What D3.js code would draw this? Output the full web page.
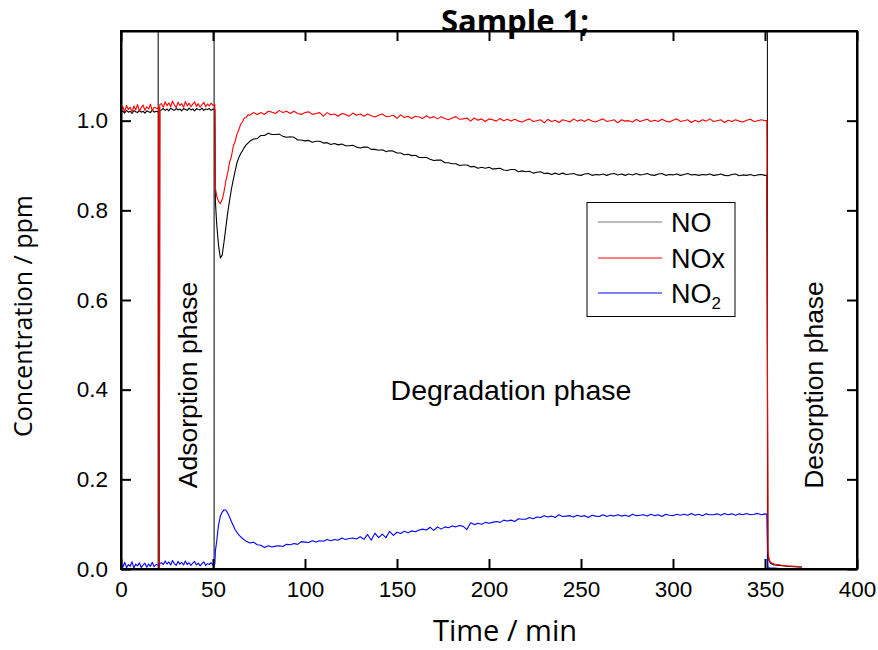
<!DOCTYPE html>
<html><head><meta charset="utf-8">
<script src="https://cdn.jsdelivr.net/npm/d3@7"></script>
<style>body{margin:0;background:#fff}</style>
</head><body>
<svg id="chart" width="878" height="650"></svg>
<script>
// ---- data (time in min, concentrations in ppm) ----
const time = [
  0,1,2,3,4,5,6,7,8,9,10,11,12,13,14,15,16,17,18,19,20,
  20.5,20.8,21.1,
  22,23,24,25,26,27,28,29,30,31,32,33,34,35,36,37,38,39,40,41,42,43,44,45,46,47,48,49,50,51,
  51.3,
  52,53,54,55,56,57,58,59,60,61,62,63,64,65,66,67,68,69,70,
  72,74,76,78,80,82,84,86,88,90,92,94,96,98,100,102,104,106,108,110,
  112,114,116,118,120,122,124,126,128,130,132,134,136,138,140,142,144,146,148,150,
  152,154,156,158,160,162,164,166,168,170,172,174,176,178,180,182,184,186,188,190,
  192,194,196,198,200,202,204,206,208,210,212,214,216,218,220,222,224,226,228,230,
  232,234,236,238,240,242,244,246,248,250,252,254,256,258,260,262,264,266,268,270,
  272,274,276,278,280,282,284,286,288,290,292,294,296,298,300,302,304,306,308,310,
  312,314,316,318,320,322,324,326,328,330,332,334,336,338,340,342,344,346,348,350,
  351,351.6,352.2,353,355,358,362,366,370
];
const no = [
  1.018,1.022,1.017,1.023,1.019,1.021,1.016,1.022,1.020,1.018,1.023,1.019,1.021,1.017,1.022,1.020,1.018,1.024,1.019,1.021,1.020,
  1.021,0,1.023,
  1.024,1.027,1.023,1.026,1.022,1.028,1.025,1.023,1.027,1.024,1.026,1.022,1.027,1.025,1.023,1.028,1.024,1.026,1.022,1.027,1.025,1.024,1.028,1.023,1.026,1.025,1.027,1.023,1.026,1.025,
  0.820,
  0.770,0.722,0.694,0.700,0.730,0.762,0.795,0.822,0.847,0.868,0.887,0.906,0.917,0.926,0.933,0.940,0.946,0.950,0.954,
  0.959,0.960,0.967,0.967,0.972,0.969,0.969,0.970,0.965,0.963,
  0.964,0.963,0.957,0.957,0.955,0.956,0.952,0.954,0.954,0.950,
  0.951,0.947,0.949,0.946,0.948,0.944,0.944,0.945,0.941,0.939,
  0.941,0.941,0.936,0.936,0.934,0.935,0.931,0.933,0.932,0.928,
  0.928,0.924,0.925,0.922,0.923,0.918,0.918,0.918,0.914,0.911,
  0.912,0.912,0.906,0.906,0.904,0.904,0.900,0.901,0.901,0.897,
  0.898,0.894,0.896,0.894,0.896,0.892,0.893,0.894,0.890,0.889,
  0.891,0.891,0.886,0.888,0.886,0.887,0.883,0.885,0.886,0.882,
  0.883,0.880,0.883,0.880,0.883,0.880,0.881,0.882,0.879,0.878,
  0.881,0.882,0.878,0.880,0.879,0.881,0.878,0.881,0.882,0.879,
  0.881,0.878,0.881,0.879,0.882,0.879,0.880,0.882,0.879,0.878,
  0.881,0.882,0.878,0.880,0.879,0.881,0.878,0.880,0.882,0.879,
  0.880,0.878,0.880,0.879,0.881,0.878,0.879,0.881,0.878,0.877,
  0.880,0.881,0.877,0.879,0.878,0.880,0.877,0.879,0.880,0.878,
  0.878,0.035,0.019,0.013,0.009,0.008,0.006,0.005,0.004
];
const nox = [
  1.022,1.031,1.020,1.034,1.025,1.030,1.019,1.033,1.024,1.036,1.021,1.029,1.035,1.023,1.031,1.026,1.037,1.022,1.030,1.028,1.027,
  1.030,0,1.036,
  1.038,1.030,1.042,1.033,1.040,1.031,1.044,1.035,1.029,1.041,1.034,1.038,1.030,1.043,1.033,1.039,1.031,1.037,1.042,1.032,1.038,1.030,1.036,1.041,1.031,1.037,1.033,1.039,1.034,1.036,
  0.850,
  0.832,0.820,0.815,0.824,0.842,0.866,0.884,0.907,0.920,0.943,0.953,0.970,0.979,0.992,0.997,1.006,1.007,1.013,1.012,
  1.018,1.014,1.018,1.014,1.021,1.019,1.016,1.023,1.018,1.021,
  1.016,1.021,1.016,1.014,1.018,1.020,1.014,1.016,1.018,1.010,
  1.018,1.013,1.015,1.010,1.016,1.014,1.010,1.017,1.012,1.015,
  1.010,1.015,1.011,1.008,1.012,1.015,1.009,1.010,1.012,1.005,
  1.013,1.007,1.010,1.005,1.010,1.008,1.005,1.011,1.006,1.009,
  1.004,1.009,1.005,1.002,1.006,1.009,1.003,1.004,1.006,0.999,
  1.006,1.001,1.004,0.998,1.004,1.002,0.999,1.005,1.000,1.003,
  0.999,1.003,0.999,0.997,1.001,1.004,0.998,1.000,1.002,0.995,
  1.003,0.998,1.001,0.996,1.002,1.000,0.997,1.004,0.999,1.002,
  0.998,1.003,0.999,0.997,1.001,1.004,0.998,1.000,1.002,0.995,
  1.002,0.999,1.000,0.997,1.003,0.998,1.001,1.003,0.998,1.001,
  0.998,1.003,0.999,0.997,1.001,1.004,0.998,1.000,1.002,0.996,
  1.001,0.997,1.002,0.999,1.004,0.998,1.000,1.002,0.996,1.001,
  0.998,1.002,0.999,0.997,1.001,1.003,0.998,1.000,1.002,1.000,
  1.000,0.040,0.022,0.015,0.011,0.009,0.007,0.006,0.005
];
const no2 = [
  0.012,0.004,0.015,0.003,0.010,0.006,0.016,0.002,0.011,0.007,0.014,0.003,0.009,0.013,0.004,0.011,0.006,0.015,0.005,0.010,0.009,
  0.009,0,0.013,
  0.014,0.010,0.018,0.011,0.016,0.009,0.019,0.012,0.008,0.017,0.011,0.015,0.009,0.018,0.010,0.014,0.008,0.013,0.017,0.009,0.013,0.007,0.012,0.016,0.008,0.012,0.010,0.014,0.009,0.011,
  0.040,
  0.062,0.098,0.118,0.127,0.132,0.131,0.125,0.116,0.106,0.097,0.088,0.082,0.076,0.072,0.068,0.065,0.062,0.060,0.058,
  0.060,0.054,0.053,0.048,0.052,0.049,0.051,0.052,0.050,0.055,
  0.054,0.057,0.055,0.061,0.060,0.059,0.063,0.060,0.063,0.062,
  0.066,0.063,0.066,0.064,0.069,0.066,0.068,0.069,0.067,0.072,
  0.066,0.077,0.064,0.080,0.070,0.078,0.070,0.084,0.075,0.082,
  0.079,0.084,0.081,0.085,0.083,0.087,0.089,0.087,0.093,0.086,
  0.094,0.089,0.094,0.092,0.096,0.094,0.097,0.095,0.088,0.103,
  0.099,0.102,0.100,0.104,0.102,0.104,0.106,0.104,0.109,0.107,
  0.109,0.106,0.112,0.111,0.111,0.115,0.112,0.116,0.115,0.119,
  0.116,0.118,0.115,0.121,0.117,0.118,0.119,0.116,0.120,0.117,
  0.119,0.115,0.120,0.118,0.117,0.121,0.117,0.120,0.118,0.121,
  0.118,0.120,0.117,0.122,0.119,0.120,0.121,0.118,0.122,0.119,
  0.121,0.117,0.122,0.120,0.119,0.122,0.120,0.122,0.120,0.124,
  0.120,0.122,0.119,0.123,0.121,0.121,0.123,0.120,0.124,0.121,
  0.123,0.120,0.123,0.121,0.124,0.121,0.122,0.124,0.121,0.123,
  0.122,0.005,0.003,0.002,0.002,0.001,0.001,0.001,0.001
];
const xTicks = [0,50,100,150,200,250,300,350,400];
const yTicks = [0,0.2,0.4,0.6,0.8,1.0];
const phaseBounds = [20.2, 50.6, 351.3];
const seriesNames = ["NO","NOx","NO2"];
const seriesColors = ["#000000","#ff0000","#0000ff"];
const title = "Sample 1;";
const xTitle = "Time / min";
const yTitle = "Concentration / ppm";

// ---- drawing ----
const svg = d3.select("#chart");
const L = 121, R = 857, T = 31, B = 569;
const x = d3.scaleLinear().domain([0,400]).range([L,R]);
const y = d3.scaleLinear().domain([0,1.2]).range([B,T]);

svg.append("rect").attr("width",878).attr("height",650).attr("fill","#fff");
svg.append("defs").append("clipPath").attr("id","clip")
  .append("rect").attr("x",L).attr("y",T).attr("width",R-L).attr("height",B-T);

const g = svg.append("g").attr("clip-path","url(#clip)");

// phase separators
g.selectAll("line.phase").data(phaseBounds).join("line")
  .attr("class","phase")
  .attr("x1",d=>x(d)).attr("x2",d=>x(d)).attr("y1",T).attr("y2",B)
  .attr("stroke","#000").attr("stroke-width",1);

const n = Math.min(time.length, no.length, nox.length, no2.length);
const idx = d3.range(n);
const series = [no, nox, no2];
const drawOrder = [2,0,1];
drawOrder.forEach(k => {
  const line = d3.line().x(i=>x(time[i])).y(i=>y(series[k][i]));
  g.append("path").datum(idx).attr("d",line)
    .attr("fill","none").attr("stroke",seriesColors[k])
    .attr("stroke-width",1.1).attr("stroke-linejoin","round");
});

// axes
const tickFont = "'Liberation Sans', Arial, sans-serif";
const ax = svg.append("g").attr("transform",`translate(0,${B})`)
  .call(d3.axisBottom(x).tickValues(xTicks).tickSizeInner(-10).tickSizeOuter(0).tickPadding(12));
const ay = svg.append("g").attr("transform",`translate(${L},0)`)
  .call(d3.axisLeft(y).tickValues(yTicks).tickFormat(d3.format(".1f")).tickSizeInner(-10).tickSizeOuter(0).tickPadding(13));
const at = svg.append("g").attr("transform",`translate(0,${T})`)
  .call(d3.axisTop(x).tickValues(xTicks).tickFormat("").tickSizeInner(-10).tickSizeOuter(0));
const ar = svg.append("g").attr("transform",`translate(${R},0)`)
  .call(d3.axisRight(y).tickValues(yTicks).tickFormat("").tickSizeInner(-10).tickSizeOuter(0));
[ax,ay,at,ar].forEach(a=>{
  a.select(".domain").attr("stroke","#000").attr("stroke-width",2);
  a.selectAll(".tick line").attr("stroke","#000").attr("stroke-width",2);
  a.selectAll(".tick text").attr("font-family",tickFont).attr("font-size",22.5).attr("fill","#000");
});
svg.append("rect").attr("x",L).attr("y",T).attr("width",R-L).attr("height",B-T)
  .attr("fill","none").attr("stroke","#000").attr("stroke-width",2);

// phase labels
const labFont = "'Liberation Sans', Arial, sans-serif";
svg.append("text").attr("transform",`translate(188,385) rotate(-90)`)
  .attr("text-anchor","middle").attr("dominant-baseline","central")
  .attr("font-family",labFont).attr("font-size",26.5).text("Adsorption phase");
svg.append("text").attr("transform",`translate(814,385) rotate(-90)`)
  .attr("text-anchor","middle").attr("dominant-baseline","central")
  .attr("font-family",labFont).attr("font-size",26.5).text("Desorption phase");
svg.append("text").attr("x",511).attr("y",400)
  .attr("text-anchor","middle")
  .attr("font-family",labFont).attr("font-size",28.5).text("Degradation phase");

// axis titles
const titleFont = "'Open Sans', sans-serif";
svg.append("text").attr("x",505).attr("y",641).attr("text-anchor","middle")
  .attr("font-family",titleFont).attr("font-size",29).text(xTitle);
svg.append("text").attr("transform","translate(32,316) rotate(-90)").attr("text-anchor","middle")
  .attr("font-family",titleFont).attr("font-size",25).text(yTitle);
svg.append("text").attr("x",515).attr("y",32).attr("text-anchor","middle")
  .attr("font-family",titleFont).attr("font-weight","bold").attr("font-size",31).text(title);

// legend
const lg = svg.append("g");
lg.append("rect").attr("x",587).attr("y",202.5).attr("width",148).attr("height",114)
  .attr("fill","#fff").attr("stroke","#000").attr("stroke-width",1);
const legY = [222, 258, 293];
seriesNames.forEach((s,i)=>{
  lg.append("line").attr("x1",598).attr("x2",662).attr("y1",legY[i]).attr("y2",legY[i])
    .attr("stroke", i===0 ? "#777" : seriesColors[i]).attr("stroke-width",1);
  const t = lg.append("text").attr("x",671).attr("y",legY[i]+9.5)
    .attr("font-family",labFont).attr("font-size",27);
  if (s === "NO2") {
    t.append("tspan").text("NO");
    t.append("tspan").attr("font-size",17).attr("dy",6).text("2");
  } else t.text(s);
});
</script>
</body></html>
